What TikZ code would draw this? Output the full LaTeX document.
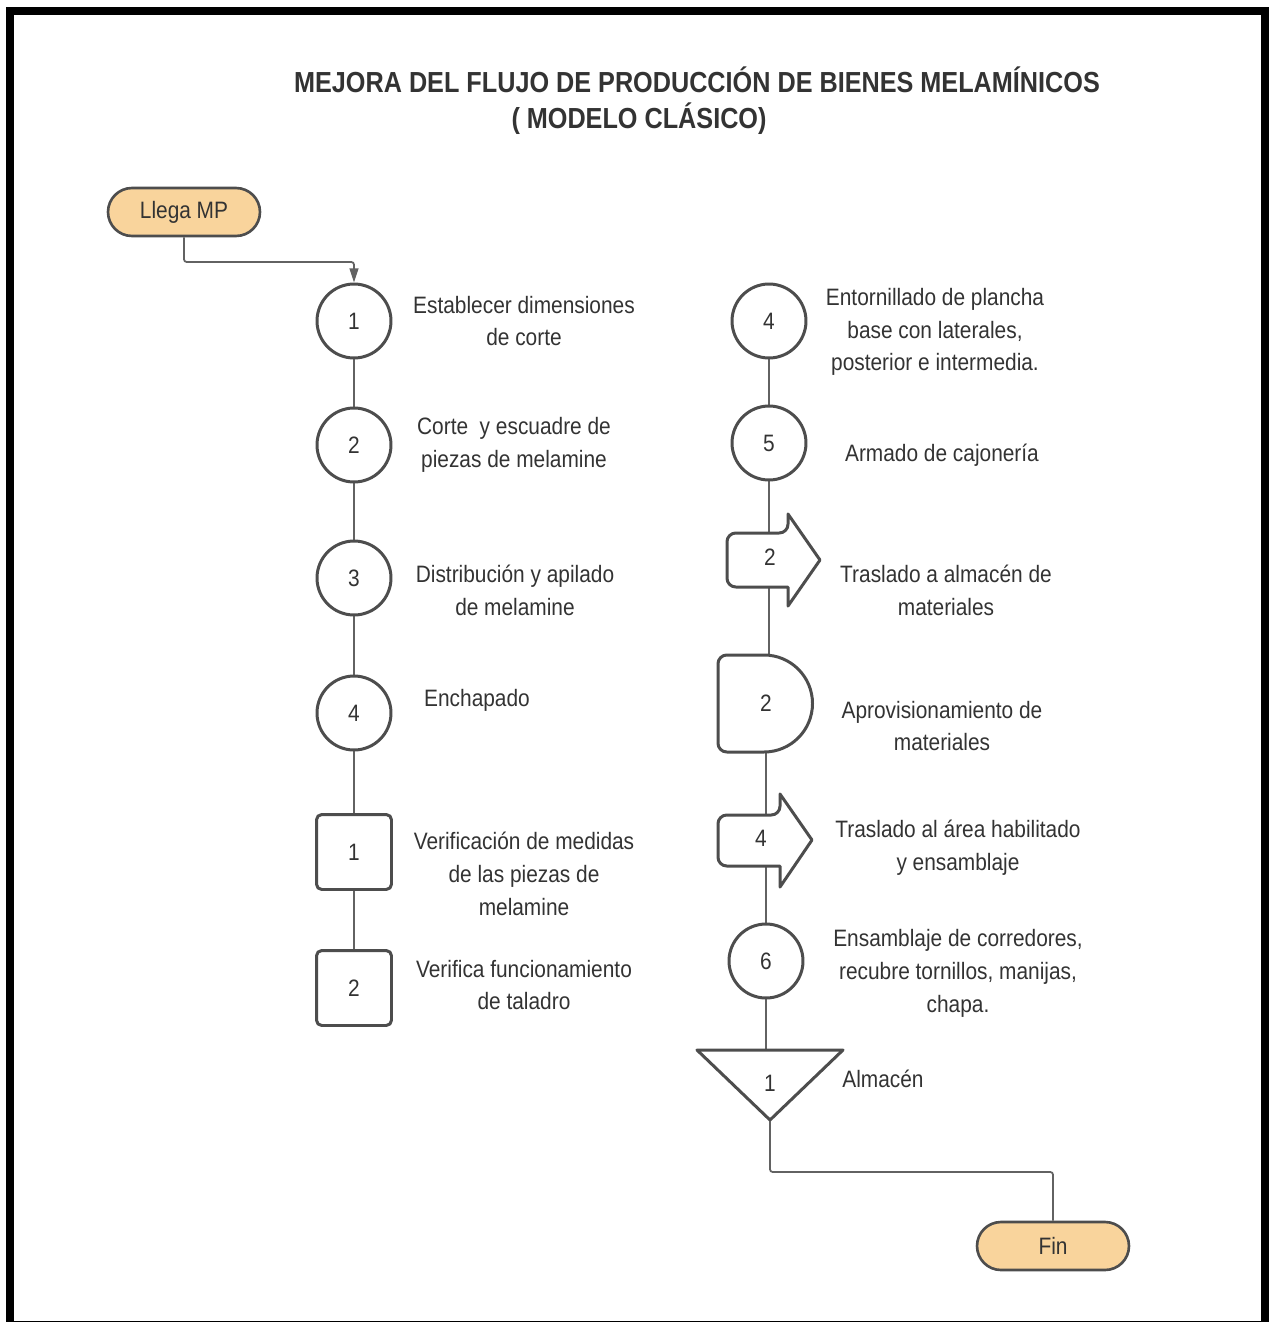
\documentclass[tikz,border=0pt]{standalone}
\usepackage{fontspec}
\setmainfont[FakeStretch=0.88]{Liberation Sans}
\newfontfamily\titlefont[FakeStretch=0.87]{Liberation Sans}
\usetikzlibrary{backgrounds,arrows.meta}
\definecolor{ink}{HTML}{333333}
\definecolor{edge}{HTML}{4D4D4D}
\definecolor{wire}{HTML}{626262}
\definecolor{peach}{HTML}{F9D49C}
\begin{document}
\begin{tikzpicture}[x=0.02cm,y=-0.02cm,
  txt/.style={font=\fontsize{13.5}{18.7}\selectfont, text=ink},
  lbl/.style={txt, align=center, inner sep=0pt},
  shp/.style={draw=edge, line width=1.7pt, fill=white, line join=round},
  opc/.style={shp, txt, circle, minimum size=1.48cm, inner sep=0pt},
  insp/.style={shp, txt, rectangle, rounded corners=3pt, minimum size=1.5cm, inner sep=0pt},
  term/.style={draw=edge, line width=1.5pt, fill=peach, txt, rectangle,
    rounded corners=0.48cm, minimum width=3.04cm, minimum height=0.96cm, inner sep=0pt},
  slot/.style={txt, inner sep=0pt},
  wire/.style={draw=wire, line width=1pt, rounded corners=1.5pt}]

% page, frame and title
\useasboundingbox (0,0) rectangle (1268,1322);
\begin{pgfonlayer}{background}
  \fill[white] (0,0) rectangle (1268,1322);
\end{pgfonlayer}
\draw[line width=4.5pt, black] (10,11) rectangle (1265,1325);
\node[text=ink, font=\titlefont\bfseries\fontsize{16.5}{22}\selectfont, inner sep=0pt] (title1) at (697,80)
  {MEJORA DEL FLUJO DE PRODUCCIÓN DE BIENES MELAMÍNICOS};
\node[text=ink, font=\titlefont\bfseries\fontsize{16.5}{22}\selectfont, inner sep=0pt] (title2) at (639,119)
  {( MODELO CLÁSICO)};

% left column
\node[term] (start) at (184,212) {Llega MP};
\coordinate (elbow) at (354,262);
\node[opc] (c1) at (354,321) {1};
\node[opc] (c2) at (354,445) {2};
\node[opc] (c3) at (354,578) {3};
\node[opc] (c4) at (354,713) {4};
\node[insp] (i1) at (354,852) {1};
\node[insp] (i2) at (354,988) {2};

\node[lbl] (l1) at (524,321) {Establecer dimensiones\\de corte};
\node[lbl] (l2) at (514,445) {Corte \ y escuadre de\\piezas de melamine};
\node[lbl] (l3) at (515,590) {Distribución y apilado\\de melamine};
\node[lbl] (l4) at (477,700) {Enchapado};
\node[lbl] (l5) at (524,874) {Verificación de medidas\\de las piezas de\\melamine};
\node[lbl] (l6) at (524,985) {Verifica funcionamiento\\de taladro};

% right column
\node[opc] (r4) at (769,321) {4};
\node[opc] (r5) at (769,443) {5};

% transport 2
\draw[shp] (788,514) -- (820,560) -- (788,606) -- (788,587)
  {[rounded corners=5pt] -- (727,587) -- (727,533) -- (788,533)} -- cycle;
\node[slot] (m2) at (770,557) {2};

% delay 2
\draw[shp] (764,655) arc(-90:90:48.5)
  {[rounded corners=5pt] -- (718,752) -- (718,655)} -- cycle;
\node[slot, minimum width=1.88cm, minimum height=1.94cm] (d2) at (766,703.5) {2};

% transport 4
\draw[shp] (780,794) -- (812,840) -- (780,887) -- (780,866)
  {[rounded corners=5pt] -- (718,866) -- (718,815) -- (780,815)} -- cycle;
\node[slot] (m4) at (761,838) {4};

\node[opc] (c6) at (766,961) {6};

% storage
\coordinate (sttop) at (770,1050);
\coordinate (sttip) at (770,1120);
\draw[shp] (697,1050) -- (843,1050) -- (sttip) -- cycle;
\node[slot] (st) at (770,1083) {1};

\coordinate (bend) at (1053,1172);
\node[term] (fin) at (1053,1246) {Fin};

\node[lbl] (r4l) at (935,332) {Entornillado de plancha\\base con laterales,\\posterior e intermedia.};
\node[lbl] (r5l) at (942,455) {Armado de cajonería};
\node[lbl] (m2l) at (946,590) {Traslado a almacén de\\materiales};
\node[lbl] (d2l) at (942,726) {Aprovisionamiento de\\materiales};
\node[lbl] (m4l) at (958,848) {Traslado al área habilitado\\y ensamblaje};
\node[lbl] (c6l) at (958,973) {Ensamblaje de corredores,\\recubre tornillos, manijas,\\chapa.};
\node[lbl] (stl) at (883,1079) {Almacén};

% connectors
\begin{pgfonlayer}{background}
  \draw[wire, -{Triangle[length=8pt,width=5pt]}] (start.south) |- (elbow) -- (c1.north);
  \draw[wire] (c1) -- (c2);
  \draw[wire] (c2) -- (c3);
  \draw[wire] (c3) -- (c4);
  \draw[wire] (c4) -- (i1);
  \draw[wire] (i1) -- (i2);
  \draw[wire] (r4) -- (r5);
  \draw[wire] (r5.south) -- (r5.south |- d2.north);
  \draw[wire] (d2.south) -- (d2.south |- c6.north);
  \draw[wire] (c6.south) -- (c6.south |- sttop);
  \draw[wire] (sttip) |- (bend) -- (fin.north);
\end{pgfonlayer}
\end{tikzpicture}
\end{document}
